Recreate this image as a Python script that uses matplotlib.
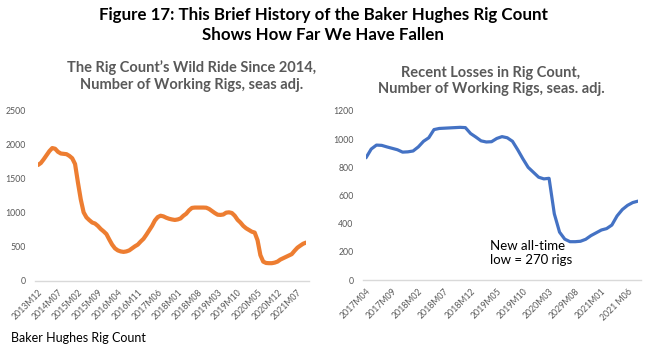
import matplotlib
matplotlib.use("Agg")
from matplotlib import pyplot as plt

# Baker Hughes rig count, monthly, seas. adj.
long_start = (2013, 12)
rigs_long = [
    1706, 1735, 1790, 1850, 1910, 1955, 1945, 1900, 1875, 1870,
    1865, 1840, 1805, 1720, 1450, 1200, 1010, 935, 895, 860,
    845, 810, 765, 730, 690, 610, 535, 480, 450, 435,
    428, 435, 450, 480, 510, 535, 580, 620, 680, 745,
    810, 890, 940, 960, 950, 930, 915, 905, 898, 905,
    920, 960, 990, 1040, 1075, 1080, 1080, 1080, 1080, 1078,
    1060, 1030, 1000, 975, 972, 978, 1005, 1010, 1000, 960,
    900, 860, 810, 775, 750, 725, 712, 600, 380, 285,
    265, 262, 262, 270, 285, 315, 335, 355, 375, 395,
    445, 490, 520, 548, 565,
]
long_labels = ["2013M12", "2014M07", "2015M02", "2015M09", "2016M04", "2016M11",
               "2017M06", "2018M01", "2018M08", "2019M03", "2019M10", "2020M05",
               "2020M12", "2021M07"]

recent_start = (2017, 4)
rigs_recent = [
    868, 930, 958, 956, 945, 935, 925, 908, 910, 916,
    945, 985, 1010, 1068, 1076, 1078, 1080, 1082, 1084, 1082,
    1040, 1015, 988, 980, 982, 1005, 1018, 1010, 985, 925,
    860, 800, 765, 730, 718, 722, 470, 340, 290, 272,
    272, 275, 289, 315, 335, 355, 365, 390, 455, 500,
    530, 550, 560,
]
recent_labels = ["2017M04", "2017M09", "2018M02", "2018M07", "2018M12", "2019M05",
                 "2019M10", "2020M03", "2029M08", "2021M01", "2021 M06"]

W, H = 646, 357
fig = plt.figure(figsize=(W / 100, H / 100), dpi=100, facecolor="white")
plt.rcParams["font.family"] = ["Lato", "DejaVu Sans"]
grey = "#595959"


def px_axes(x0, x1, y_top, y_bot):
    return fig.add_axes([x0 / W, 1 - y_bot / H, (x1 - x0) / W, (y_bot - y_top) / H])


def style(ax, n, step, labels, ymax, ystep):
    for s in ax.spines.values():
        s.set_visible(False)
    ax.axhline(0, color="#d9d9d9", lw=1, zorder=0, xmin=-0.01, xmax=1.01, clip_on=False)
    ax.set_xlim(0, n - 1)
    ax.set_ylim(0, ymax)
    ax.set_yticks(range(0, ymax + 1, ystep))
    ax.set_xticks(range(0, len(labels) * step, step))
    ax.set_xticklabels(labels, rotation=45, ha="right", rotation_mode="anchor")
    ax.tick_params(length=0, labelsize=6.3, labelcolor=grey)
    ax.tick_params(axis="x", pad=5)
    ax.tick_params(axis="y", pad=9)


ax1 = px_axes(38, 306, 111, 281)
ax1.plot(range(len(rigs_long)), rigs_long, color="#ED7D31", lw=3, solid_capstyle="round")
style(ax1, len(rigs_long), 7, long_labels, 2500, 500)

ax2 = px_axes(366, 638, 111, 280)
ax2.plot(range(len(rigs_recent)), rigs_recent, color="#4472C4", lw=2.3, solid_capstyle="round")
style(ax2, len(rigs_recent), 5, recent_labels, 1200, 200)
ax2.text(490 / W, 1 - 253 / H, "New all-time\nlow = 270 rigs", transform=fig.transFigure,
         fontsize=9.5, color="black", va="center", ha="left", linespacing=1.25)

fig.text(0.5, 1 - 25 / H, "Figure 17: This Brief History of the Baker Hughes Rig Count\n"
         "Shows How Far We Have Fallen", ha="center", va="center",
         fontsize=12.2, fontweight="bold", linespacing=1.25)
fig.text(192 / W, 1 - 76 / H, "The Rig Count\u2019s Wild Ride Since 2014,\n"
         "Number of Working Rigs, seas adj.", ha="center", va="center",
         fontsize=10.5, fontweight="bold", color=grey, linespacing=1.2)
fig.text(491 / W, 1 - 81 / H, "Recent Losses in Rig Count,\n"
         "Number of Working Rigs, seas. adj.", ha="center", va="center",
         fontsize=10.5, fontweight="bold", color=grey, linespacing=1.25)
fig.text(11 / W, 1 - 338 / H, "Baker Hughes Rig Count", ha="left", va="center",
         fontsize=9, color="black")

fig.savefig("out.png", dpi=100, facecolor="white")
